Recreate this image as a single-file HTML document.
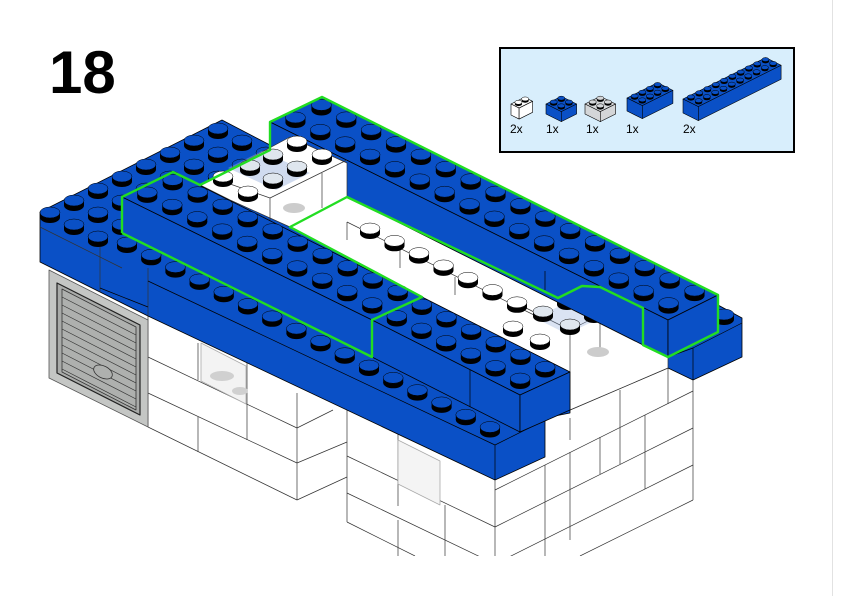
<!DOCTYPE html>
<html><head><meta charset="utf-8"><style>
html,body{margin:0;padding:0;background:#fff;}
svg{display:block;}
text{font-family:"Liberation Sans",sans-serif;}
</style></head><body>
<svg id="s" width="842" height="596" viewBox="0 0 842 596" xmlns="http://www.w3.org/2000/svg">
<defs><clipPath id="cp"><rect x="0" y="0" width="842" height="556"/></clipPath></defs>
<rect width="842" height="596" fill="#fff"/>
<line x1="832.5" y1="0" x2="832.5" y2="596" stroke="#e2e2e2" stroke-width="1"/>
<text x="49" y="93" font-size="60" font-weight="bold" fill="#000">18</text>
<rect x="500" y="48" width="294" height="104" fill="#d8eefc" stroke="#000" stroke-width="2"/>
<g font-size="12" fill="#000">
<text x="510" y="133">2x</text><text x="546" y="133">1x</text><text x="586" y="133">1x</text><text x="626" y="133">1x</text><text x="683" y="133">2x</text>
</g>
<g id="g" clip-path="url(#cp)"></g>
</svg>
<script>
var o='';
function P(pts,fill,stroke,sw){o+='<polygon points="'+pts.map(function(p){return p[0]+','+p[1]}).join(' ')+'" fill="'+fill+'" stroke="'+(stroke||'none')+'" stroke-width="'+(sw||0.8)+'" stroke-linejoin="round"/>';}
function L(a,b,c,sw){o+='<line x1="'+a[0]+'" y1="'+a[1]+'" x2="'+b[0]+'" y2="'+b[1]+'" stroke="'+(c||'#333')+'" stroke-width="'+(sw||0.7)+'"/>';}
function S(x,y,col,r){r=r||10;var ry=r*0.55;
 o+='<ellipse cx="'+x+'" cy="'+(y+3.5*r/10)+'" rx="'+r+'" ry="'+ry+'" fill="#000"/>';
 o+='<rect x="'+(x-r)+'" y="'+(y-1)+'" width="'+(2*r)+'" height="'+(4.5*r/10)+'" fill="#000"/>';
 o+='<ellipse cx="'+x+'" cy="'+(y-1.5*r/10)+'" rx="'+r+'" ry="'+ry+'" fill="'+col+'" stroke="#000" stroke-width="0.5"/>';}
function grid(F0,B0,F1,n,m,col){var u=[(F1[0]-F0[0])/n,(F1[1]-F0[1])/n],w=[(B0[0]-F0[0])/m,(B0[1]-F0[1])/m];
 var arr=[];for(var j=m-1;j>=0;j--)for(var i=0;i<n;i++){arr.push([F0[0]+(i+.5)*u[0]+(j+.5)*w[0],F0[1]+(i+.5)*u[1]+(j+.5)*w[1]-3]);}
 arr.forEach(function(p){S(p[0],p[1],col);});}
var B='#0a50c6',W='#fff';
// building white
P([[148,308],[495,480],[495,600],[347,600],[347,477],[297,500],[148,427]],W);
P([[495,480],[545,455],[570,410],[668,368],[693,380],[693,600],[495,600]],W);
L([148,308],[148,427]);L([148,427],[297,500]);L([297,500],[347,477]);
L([347,522],[415,556]);L([693,380],[693,500]);L([693,500],[580,556]);L([495,480],[495,600]);
// left wing lines
L([148,357],[297,428]);L([148,393],[297,463]);L([297,393],[297,500]);
L([297,428],[333,410]);L([297,463],[347,442]);L([347,409],[347,522]);
L([198,343],[198,380]);L([198,417],[198,452]);L([247,320],[247,440]);
// window
P([[201,343],[246,366],[246,404],[201,381]],'#f3f3f3','#aaa',0.8);
o+='<ellipse cx="222" cy="376" rx="12" ry="5" fill="#d0d0d0"/><ellipse cx="240" cy="391" rx="8" ry="4" fill="#d0d0d0"/>';
// front wing left face lines
L([347,456],[495,527]);L([347,493],[495,564]);L([398,434],[398,506]);L([445,505],[445,556]);L([398,520],[398,556]);
P([[398,440],[440,461],[440,505],[398,484]],'#f4f4f4','#aaa',0.8);
// right face lines
L([495,490],[693,391]);L([495,527],[693,428]);L([495,564],[693,465]);
L([545,465],[545,502]);L([600,437],[600,474]);L([645,415],[645,452]);
L([570,452],[570,540]);L([620,427],[620,464]);L([545,502],[545,556]);L([645,452],[645,489]);
L([570,418],[570,440]);L([620,390],[620,427]);L([668,368],[668,404]);
// gray wall / garage
P([[49,270],[148,320],[148,427],[49,378]],'#c4c6c4','#555',0.8);
P([[57,283],[140,325],[140,415],[57,373]],'#a9aba9','#222',1.2);
P([[62,289],[136,327],[136,410],[62,372]],'#aeb0ae','#333',0.8);
for(var k=1;k<11;k++){L([62,289+k*8],[136,327+k*8],'#333',0.7);}
o+='<ellipse cx="103" cy="372" rx="10" ry="6" fill="#aeb0ae" stroke="#333" stroke-width="0.8" transform="rotate(27 103 372)"/>';
// blue silhouette
P([[40,212],[222,120],[270,145],[270,122],[322,97],[718,295],[718,305],[742,318],[742,357],[693,380],[668,368],[570,410],[570,413],[545,418],[545,457],[495,480],[148,316],[40,262]],B,'#000',0.8);
L([40,227],[122,268]);L([100,245],[100,292]);L([148,268],[148,316]);L([148,281],[495,445],'#000');
L([495,445],[495,480],'#000');L([495,445],[545,420],'#000');
L([100,288],[148,307],'#000');
for(var i=7;i>=0;i--)for(var j=0;j<3;j++){S(50+24*i+24*j,214-12*i+12*j,B);}
S(724,316,B);
// white opening
P([[290,227],[347,197],[558,298],[590,283],[643,308],[643,345],[668,357],[668,368],[570,410],[570,372],[422,297]],W,'#333',0.7);
L([347,222],[540,318]);L([347,222],[347,240]);L([400,250],[400,268]);L([455,277],[455,295]);
L([520,305],[570,330]);L([570,330],[643,293]);L([570,330],[570,372]);L([600,315],[600,350]);
P([[535,318],[568,302],[600,318],[567,334]],'rgba(150,175,220,0.35)');
for(var k=0;k<7;k++){S(370+k*24.5,230+k*12.3,W);}
S(593,292,W);S(618,304,W);S(513,328,W);S(540,341,W);
S(543,313,'#dfe6ee');S(567,301,'#dfe6ee');S(570,326,'#dfe6ee');S(594,314,'#dfe6ee');
o+='<ellipse cx="598" cy="352" rx="11" ry="5" fill="#ccc"/>';
// back bar
P([[270,122],[322,97],[718,295],[668,320]],B,'#000',0.8);
P([[270,122],[668,320],[668,357],[643,345],[270,158]],B,'#000',0.8);
P([[668,320],[718,295],[718,332],[668,357]],B,'#000',0.8);
L([643,307],[643,345],'#000');L([545,271],[545,290],'#000');
grid([270,122],[322,97],[668,320],16,2,B);
L([693,348],[693,380],'#000');L([693,348],[742,323],'#000');L([668,357],[693,348],'#000');
// white block left-inside
P([[200,185],[290,137],[347,163],[347,197],[290,227],[230,200]],W,'#333',0.7);
P([[228,168],[262,151],[310,173],[276,190]],'rgba(150,175,220,0.45)');
L([270,198],[347,160]);L([270,198],[270,226]);L([213,178],[270,198]);L([322,173],[322,208]);
S(223,178,W);S(248,193,W);S(297,143,W);S(322,156,W);
S(250,167,'#dfe6ee');S(273,156,'#dfe6ee');S(273,180,'#dfe6ee');S(297,168,'#dfe6ee');
o+='<ellipse cx="294" cy="208" rx="11" ry="5" fill="#ccc"/>';
// front-right old brick
P([[372,320],[422,297],[570,372],[520,395]],B,'#000',0.8);
P([[372,320],[520,395],[520,432],[372,357]],B,'#000',0.8);
P([[520,395],[570,372],[570,410],[520,432]],B,'#000',0.8);
L([470,370],[470,407],'#000');
grid([372,320],[422,297],[520,395],6,2,B);
// front bar
P([[122,197],[173,172],[422,297],[372,320]],B,'#000',0.8);
P([[122,197],[372,320],[372,357],[122,233]],B,'#000',0.8);
grid([122,197],[173,172],[372,320],10,2,B);
for(var k=0;k<16;k++){S(127+k*24.2,244+k*12.3,B);}
o+='<polyline points="122,233 122,197 173,172 200,185 270,150 270,122 322,97 718,295 718,332 668,357 643,345 643,308 600,287 582,286 558,298 347,197 290,227 422,297 372,320 372,357 122,233" fill="none" stroke="#22dd22" stroke-width="2.4" stroke-linejoin="round"/>';
function icon(x,y,L1,Wd,h,col,nL,nW){
 var a=[L1*0.9,-L1*0.45],b=[Wd*0.9,Wd*0.45];
 var p0=[x,y],p1=[x+a[0],y+a[1]],p2=[x+a[0]+b[0],y+a[1]+b[1]],p3=[x+b[0],y+b[1]];
 P([p0,p1,p2,p3],col,'#000',0.6);
 P([p0,p3,[p3[0],p3[1]+h],[p0[0],p0[1]+h]],col,'#000',0.6);
 P([p3,p2,[p2[0],p2[1]+h],[p3[0],p3[1]+h]],col,'#000',0.6);
 for(var j=0;j<nW;j++)for(var i=nL-1;i>=0;i--){var cx=x+(i+.5)*a[0]/nL+(j+.5)*b[0]/nW,cy=y+(i+.5)*a[1]/nL+(j+.5)*b[1]/nW-1.5;S(cx,cy,col,3.6);}
}
icon(511,104,15,9,11,'#fff',2,1);
icon(546,104,17,17,10,B,2,2);
icon(585,104,17,17,10,'#d4d6d8',2,2);
icon(627,98,34,17,13,B,4,2);
icon(683,99,92,17,14,B,10,2);
document.getElementById('g').innerHTML=o;
</script>
</body></html>
